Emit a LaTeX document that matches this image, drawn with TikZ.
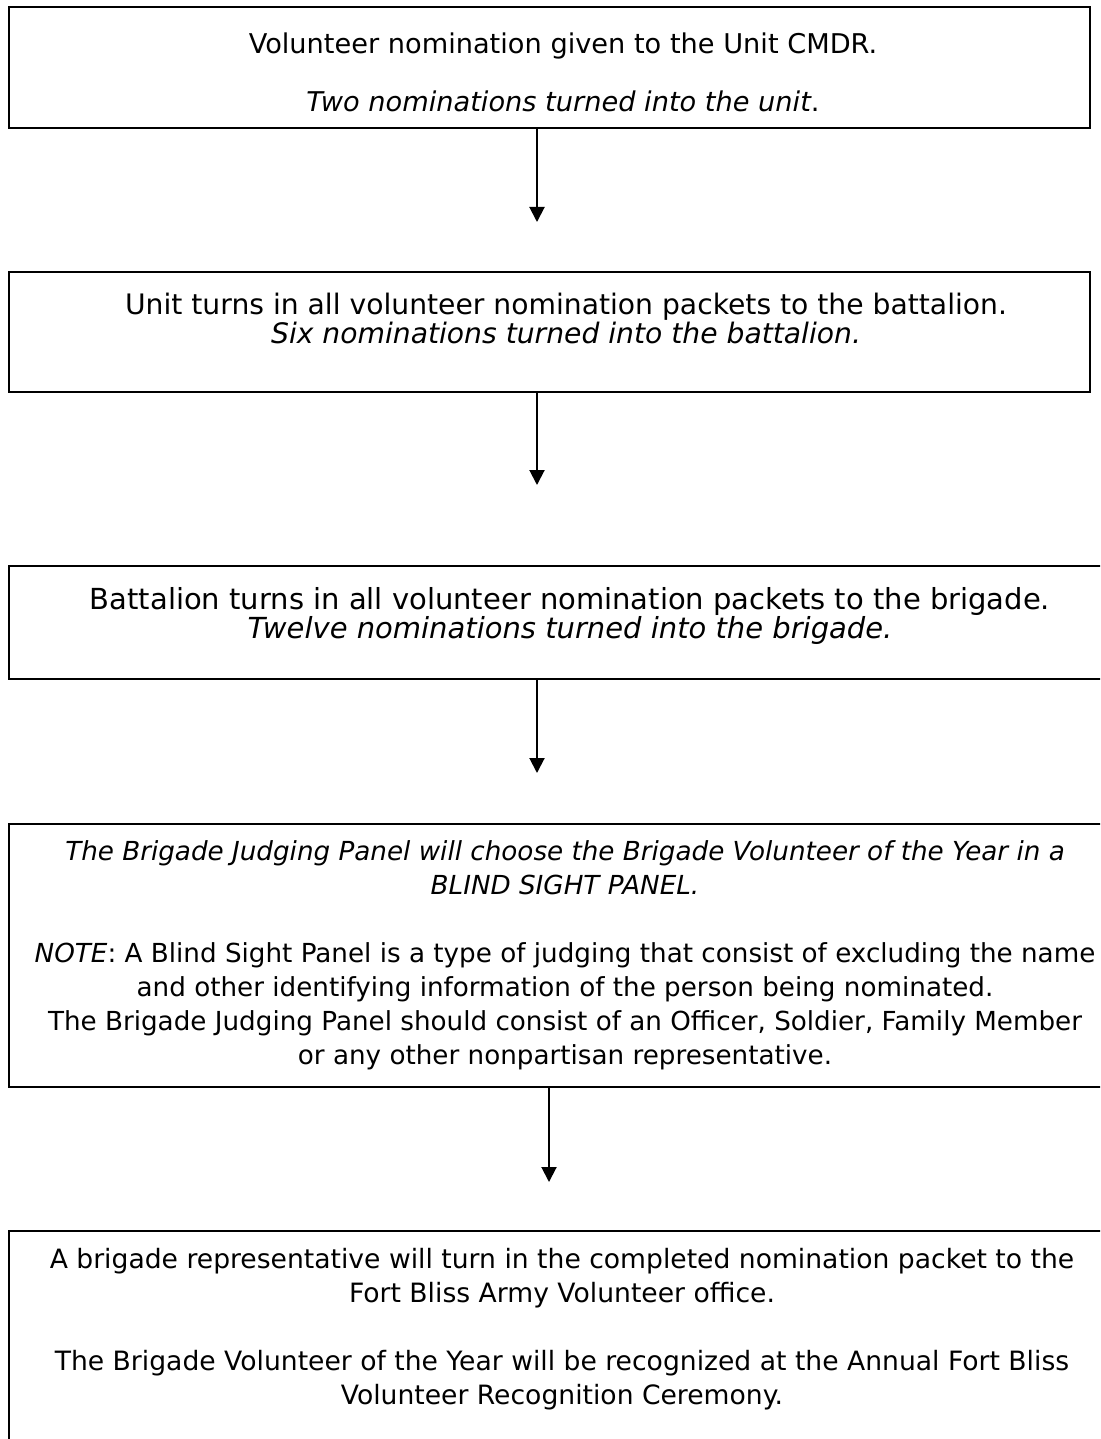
\documentclass[tikz,border=0pt]{standalone}
\usepackage{fontspec}
\setmainfont{DejaVu Sans}
\usetikzlibrary{arrows.meta}
\tikzset{
  stepbox/.style={draw,line width=1.2pt,anchor=north west,inner sep=0pt},
  steptext/.style={anchor=north,align=center,inner sep=0pt},
  flowarrow/.style={line width=1pt,-{Triangle[width=7.5pt,length=7.5pt]}},
}

\begin{document}
\begin{tikzpicture}[
  x=0.5pt,y=-0.5pt,
  short text/.style={font=\fontsize{#1}{14.5}\selectfont},
  long text/.style={font=\fontsize{#1}{17}\selectfont},
]
\useasboundingbox (0,0) rectangle (1100,1439);
\clip (0,0) rectangle (1100,1439);

\node[stepbox,minimum width=540.5pt,minimum height=60.5pt] (unit box) at (8,6) {};
\node[steptext,short text=13.6] (unit text) at (563,32)
  {Volunteer nomination given to the Unit CMDR.\\[14.5pt]
   \textit{Two nominations turned into the unit}.};

\node[stepbox,minimum width=540.5pt,minimum height=60pt] (battalion box) at (8,271) {};
\node[steptext,short text=14.1] (battalion text) at (566,293)
  {Unit turns in all volunteer nomination packets to the battalion.\\
   \textit{Six nominations turned into the battalion.}};

\node[stepbox,minimum width=551pt,minimum height=56.5pt] (brigade box) at (8,565) {};
\node[steptext,short text=14.5] (brigade text) at (570,587)
  {Battalion turns in all volunteer nomination packets to the brigade.\\
   \textit{Twelve nominations turned into the brigade.}};

\node[stepbox,minimum width=551pt,minimum height=131.5pt] (panel box) at (8,823) {};
\node[steptext,long text=13.1] (panel text) at (565,840)
  {\textit{The Brigade Judging Panel will choose the Brigade Volunteer of the Year in a}\\
   \textit{BLIND SIGHT PANEL.}\\[17pt]
   \textit{NOTE}: A Blind Sight Panel is a type of judging that consist of excluding the name\\
   and other identifying information of the person being nominated.\\
   The Brigade Judging Panel should consist of an Officer, Soldier, Family Member\\
   or any other nonpartisan representative.};

\node[stepbox,minimum width=551pt,minimum height=115pt] (office box) at (8,1230) {};
\node[steptext,long text=13.3] (office text) at (562,1248)
  {A brigade representative will turn in the completed nomination packet to the\\
   Fort Bliss Army Volunteer office.\\[17pt]
   The Brigade Volunteer of the Year will be recognized at the Annual Fort Bliss\\
   Volunteer Recognition Ceremony.};

\coordinate (unit end) at (537,222);
\coordinate (battalion end) at (537,485);
\coordinate (brigade end) at (537,773);
\coordinate (panel end) at (549,1182);
\draw[flowarrow] (unit box.south -| unit end) -- (unit end);
\draw[flowarrow] (battalion box.south -| battalion end) -- (battalion end);
\draw[flowarrow] (brigade box.south -| brigade end) -- (brigade end);
\draw[flowarrow] (panel box.south -| panel end) -- (panel end);
\end{tikzpicture}
\end{document}
